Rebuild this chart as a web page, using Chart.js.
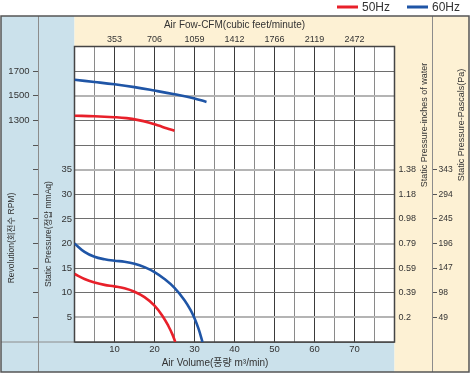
<!DOCTYPE html>
<html>
<head>
<meta charset="utf-8">
<script src="https://cdn.jsdelivr.net/npm/chart.js@4.4.0/dist/chart.umd.min.js"></script>
<style>
  html, body { margin: 0; padding: 0; background: #fff; }
  #fanChart { display: block; }
</style>
</head>
<body>
<canvas id="fanChart" width="471" height="374"></canvas>
<script>
// 풍량(m³/min) 대비 정압(mmAq) / 회전수(RPM) - 50Hz, 60Hz
const hz50Flow     = [0, 2.5, 5, 7.5, 10, 12.5, 15, 17.5, 20, 22, 23.5, 24.5, 25.2];
const hz50Pressure = [13.8, 12.8, 12.1, 11.6, 11.3, 10.9, 10.2, 9.1, 7.4, 5.3, 3.2, 1.5, 0];
const hz60Flow     = [0, 2.5, 5, 7.5, 10, 12.5, 15, 17.5, 20, 22.5, 25, 27.5, 29, 30, 31, 32];
const hz60Pressure = [20, 18.3, 17.3, 16.8, 16.5, 16.3, 15.9, 15.2, 14.2, 12.8, 11.0, 8.5, 6.5, 4.8, 2.7, 0];

const hz50RpmFlow  = [0, 5, 10, 13, 16, 18.5, 21, 23, 25];
const hz50Rpm      = [1338, 1334, 1326, 1318, 1302, 1283, 1258, 1236, 1216];
const hz60RpmFlow  = [0, 5, 10, 15, 20, 25, 30, 33];
const hz60Rpm      = [1630, 1612, 1593, 1570, 1542, 1512, 1478, 1450];

// 눈금
const flowTicks     = [10, 20, 30, 40, 50, 60, 70];
const cfmTicks      = ['353', '706', '1059', '1412', '1766', '2119', '2472'];
const pressureTicks = [5, 10, 15, 20, 25, 30, 35];
const inchTicks     = ['0.2', '0.39', '0.59', '0.79', '0.98', '1.18', '1.38'];
const pascalTicks   = ['49', '98', '147', '196', '245', '294', '343'];
const rpmTicks      = [1300, 1500, 1700];

const FONT = "'Liberation Sans', 'Noto Sans CJK KR', sans-serif";
const INK = '#333';
const RED = '#e8202a';
const BLUE = '#1f55a6';
const PANEL_BLUE = '#cbe1eb';
const PANEL_BEIGE = '#fdf1d4';

Chart.defaults.font.family = FONT;
Chart.defaults.color = INK;

const toPoints = (xs, ys) => xs.map((x, i) => ({ x, y: ys[i] }));
const fixWidth = w => s => { s.width = w; };
const fixHeight = h => s => { s.height = h; };

function vText(ctx, text, x, y, size) {
  ctx.save();
  ctx.translate(x, y);
  ctx.rotate(-Math.PI / 2);
  ctx.font = size + 'px ' + FONT;
  ctx.fillStyle = INK;
  ctx.textAlign = 'center';
  ctx.textBaseline = 'middle';
  ctx.fillText(text, 0, 0);
  ctx.restore();
}

const framePlugin = {
  id: 'frame',
  beforeDraw(chart) {
    const { ctx, chartArea: a, width, height } = chart;
    ctx.save();
    ctx.fillStyle = '#fff';
    ctx.fillRect(0, 0, width, height);
    ctx.fillStyle = PANEL_BLUE;
    ctx.fillRect(1, 16, a.left - 1, height - 18);
    ctx.fillRect(1, a.bottom, a.right - 1, height - 2 - a.bottom);
    ctx.fillStyle = PANEL_BEIGE;
    ctx.fillRect(a.left, 16, width - 2 - a.left, a.top - 16);
    ctx.fillRect(a.right, 16, width - 2 - a.right, height - 18);
    ctx.restore();
  },
  beforeDatasetsDraw(chart) {
    const { ctx, chartArea: a, width, height, scales } = chart;
    ctx.save();
    // 칸 구분선
    ctx.strokeStyle = '#8c8c8c';
    ctx.lineWidth = 1;
    ctx.beginPath();
    ctx.moveTo(scales.yRpm.right + 0.5, 16); ctx.lineTo(scales.yRpm.right + 0.5, height - 2);
    ctx.moveTo(scales.yPa.left + 0.5, 16); ctx.lineTo(scales.yPa.left + 0.5, height - 2);
    ctx.moveTo(1, a.bottom); ctx.lineTo(a.left, a.bottom);
    ctx.stroke();
    // 그래프 테두리
    ctx.strokeStyle = '#444';
    ctx.lineWidth = 1.5;
    ctx.strokeRect(a.left, a.top, a.right - a.left, a.bottom - a.top);
    // 바깥 테두리
    ctx.strokeStyle = '#555';
    ctx.strokeRect(1, 16, width - 3, height - 18);
    ctx.restore();
  },
  afterDraw(chart) {
    const { ctx } = chart;
    ctx.save();
    vText(ctx, 'Revolution(회전수 RPM)', 12, 238, 8.5);
    vText(ctx, 'Static Pressure(정압 mmAq)', 49, 234, 8.5);
    vText(ctx, 'Static Pressure-inches of water', 425, 125, 9);
    vText(ctx, 'Static Pressure-Pascals(Pa)', 461.5, 125, 9);

    ctx.font = '10px ' + FONT;
    ctx.fillStyle = INK;
    ctx.textAlign = 'center';
    ctx.textBaseline = 'middle';
    ctx.fillText('Air Volume(풍량 m³/min)', 215, 363);

    // 범례
    const legend = chart.data.datasets.filter(d => d.yAxisID === 'y');
    let x = 337;
    ctx.font = '12px ' + FONT;
    ctx.textAlign = 'left';
    legend.forEach(d => {
      ctx.fillStyle = d.borderColor;
      ctx.fillRect(x, 5.5, 21, 3);
      ctx.fillStyle = INK;
      ctx.fillText(d.label, x + 25, 7.5);
      x += 70;
    });
    ctx.restore();
  }
};

const lineStyle = color => ({
  borderColor: color,
  backgroundColor: color,
  borderWidth: 2.6,
  pointRadius: 0,
  showLine: true,
  fill: false,
  tension: 0.4
});

new Chart(document.getElementById('fanChart'), {
  type: 'scatter',
  data: {
    datasets: [
      { label: '50Hz', data: toPoints(hz50Flow, hz50Pressure), yAxisID: 'y', ...lineStyle(RED) },
      { label: '60Hz', data: toPoints(hz60Flow, hz60Pressure), yAxisID: 'y', ...lineStyle(BLUE) },
      { label: '50Hz RPM', data: toPoints(hz50RpmFlow, hz50Rpm), yAxisID: 'yRpm', ...lineStyle(RED) },
      { label: '60Hz RPM', data: toPoints(hz60RpmFlow, hz60Rpm), yAxisID: 'yRpm', ...lineStyle(BLUE) }
    ]
  },
  options: {
    responsive: false,
    animation: false,
    events: [],
    layout: { padding: { top: 16, left: 0, right: 0, bottom: 0 } },
    plugins: { legend: { display: false }, tooltip: { enabled: false } },
    scales: {
      x: {
        type: 'linear', position: 'bottom', min: 0, max: 80,
        ticks: {
          stepSize: 5, autoSkip: false, maxRotation: 0, padding: 2, font: { size: 9.5 }, color: INK,
          callback: v => flowTicks.includes(v) ? String(v) : ''
        },
        grid: { color: c => c.tick.value % 10 === 0 ? '#3a3a3a' : '#8a8a8a', lineWidth: 1, drawTicks: false },
        border: { display: false },
        afterFit: fixHeight(32)
      },
      xCfm: {
        type: 'linear', position: 'top', min: 0, max: 80,
        ticks: {
          stepSize: 10, autoSkip: false, maxRotation: 0, padding: 2, font: { size: 9 }, color: INK,
          callback: v => { const i = flowTicks.indexOf(v); return i < 0 ? '' : cfmTicks[i]; }
        },
        grid: { display: false, drawTicks: false },
        border: { display: false },
        title: { display: true, text: 'Air Fow-CFM(cubic feet/minute)', font: { size: 10 }, color: INK, padding: { top: 3, bottom: 0 } },
        afterFit: fixHeight(30.5)
      },
      y: {
        type: 'linear', position: 'left', weight: 0, min: 0, max: 60,
        ticks: {
          stepSize: 5, autoSkip: false, padding: 2.5, font: { size: 9.5 }, color: INK,
          callback: v => pressureTicks.includes(v) ? String(v) : ''
        },
        grid: {
          color: c => [5, 20, 35, 50].includes(c.tick.value) ? '#b4b4b4' : '#6e6e6e',
          lineWidth: c => [5, 20, 35, 50].includes(c.tick.value) ? 2 : 1,
          drawTicks: false
        },
        border: { display: false },
        afterFit: fixWidth(36.5)
      },
      yRpm: {
        type: 'linear', position: 'left', weight: 1, min: -500, max: 1900,
        ticks: {
          stepSize: 200, autoSkip: false, padding: 3.5, font: { size: 9.5 }, color: INK,
          callback: v => rpmTicks.includes(v) ? String(v) : ''
        },
        grid: {
          drawOnChartArea: false, drawTicks: true, tickLength: 5, lineWidth: 1,
          color: c => (c.tick.value > -500 && c.tick.value < 1900) ? '#555' : 'rgba(0,0,0,0)'
        },
        border: { display: false },
        afterFit: fixWidth(38)
      },
      yIn: {
        type: 'linear', position: 'right', weight: 0, min: 0, max: 60,
        ticks: {
          stepSize: 5, autoSkip: false, padding: 4, font: { size: 9 }, color: INK,
          callback: v => { const i = pressureTicks.indexOf(v); return i < 0 ? '' : inchTicks[i]; }
        },
        grid: { display: false, drawTicks: false },
        border: { display: false },
        afterFit: fixWidth(37.5)
      },
      yPa: {
        type: 'linear', position: 'right', weight: 1, min: 0, max: 60,
        ticks: {
          stepSize: 5, autoSkip: false, padding: 1.5, font: { size: 8.5 }, color: INK,
          callback: v => { const i = pressureTicks.indexOf(v); return i < 0 ? '' : pascalTicks[i]; }
        },
        grid: {
          drawOnChartArea: false, drawTicks: true, tickLength: 5, lineWidth: 1,
          color: c => pressureTicks.includes(c.tick.value) ? '#555' : 'rgba(0,0,0,0)'
        },
        border: { display: false },
        afterFit: fixWidth(39)
      }
    }
  },
  plugins: [framePlugin]
});
</script>
</body>
</html>
